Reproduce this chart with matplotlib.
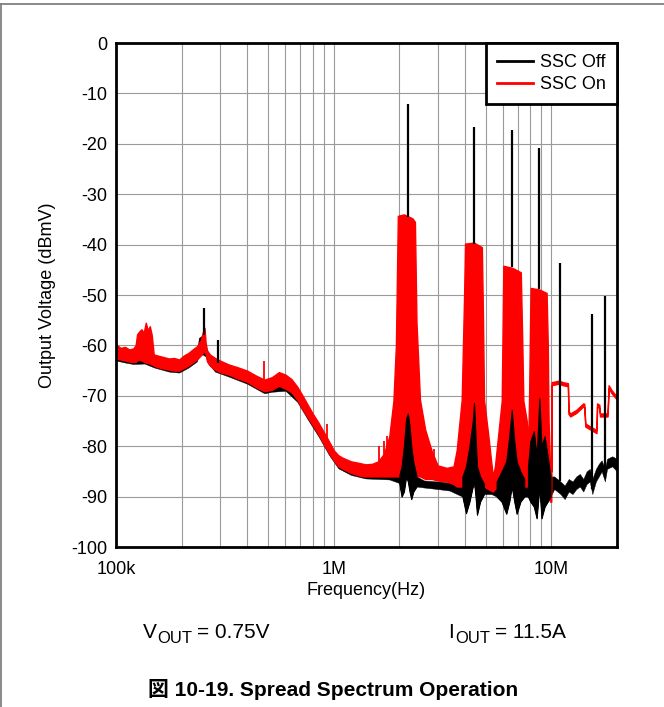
import matplotlib
matplotlib.use("Agg")
import matplotlib.pyplot as plt
from matplotlib.lines import Line2D
from matplotlib.ticker import FixedLocator, LogLocator, NullFormatter

plt.rcParams["font.family"] = ["Liberation Sans", "Noto Sans CJK JP"]
plt.rcParams["axes.unicode_minus"] = False

# ---- SSC On (red) envelope: frequency (Hz), upper / lower level (dBmV) ----
red_freq = [100e3, 105e3, 110e3, 115e3, 120e3, 123e3, 125e3, 128e3, 131e3, 134e3,
            137e3, 140e3, 143e3, 146e3, 149e3, 155e3, 165e3, 175e3, 185e3, 195e3,
            205e3, 215e3, 225e3, 235e3, 245e3, 250e3, 255e3, 258e3, 262e3, 270e3,
            285e3, 300e3, 330e3, 360e3, 400e3, 440e3, 480e3, 520e3, 560e3, 600e3,
            640e3, 680e3, 720e3, 760e3, 800e3, 850e3, 900e3, 950e3, 1.0e6, 1.05e6,
            1.1e6, 1.2e6, 1.3e6, 1.4e6, 1.5e6, 1.6e6, 1.7e6, 1.8e6, 1.88e6, 1.93e6,
            1.97e6, 2.1e6, 2.3e6, 2.36e6, 2.4e6, 2.49e6, 2.63e6, 2.82e6, 3.0e6, 3.3e6,
            3.55e6, 3.67e6, 3.87e6, 3.97e6, 4.01e6, 4.4e6, 4.79e6, 4.85e6, 4.9e6, 5.12e6,
            5.38e6, 5.5e6, 5.91e6, 5.97e6, 6.01e6, 6.6e6, 7.23e6, 7.35e6, 7.43e6, 7.7e6,
            7.82e6, 7.9e6, 7.98e6, 8.03e6, 8.8e6, 9.5e6, 9.62e6, 9.7e6, 9.85e6, 9.98e6,
            10.02e6, 10.8e6, 11.3e6, 11.9e6, 11.97e6, 12.2e6, 13.0e6, 14.0e6, 14.15e6, 14.3e6,
            16.1e6, 16.2e6, 16.6e6, 16.7e6, 18.1e6, 18.3e6, 18.9e6, 20e6]
red_hi = [-59.8, -60.5, -60.3, -60.8, -60.6, -60.0, -57.8, -57.2, -56.8, -57.5,
          -55.5, -57.0, -56.2, -58.0, -61.8, -62.0, -62.3, -62.6, -62.5, -62.8,
          -62.0, -61.5, -60.8, -60.2, -59.0, -57.5, -56.5, -59.5, -61.0, -61.8,
          -62.5, -63.0, -63.8, -64.3, -65.0, -66.0, -66.8, -66.3, -65.3, -65.8,
          -66.7, -68.2, -70.0, -71.8, -73.5, -75.3, -77.2, -79.0, -80.8, -81.8,
          -82.3, -83.0, -83.3, -83.6, -83.5, -83.0, -81.5, -78.0, -71.0, -60.0,
          -34.3, -34.0, -34.8, -35.5, -55.6, -70.8, -76.7, -81.0, -83.8, -84.3,
          -84.0, -80.8, -70.8, -50.0, -39.8, -39.6, -40.5, -55.0, -70.8, -77.6,
          -86.0, -84.0, -71.0, -55.0, -44.2, -44.6, -45.5, -60.0, -71.0, -75.0,
          -80.0, -69.0, -55.0, -48.6, -48.9, -49.6, -60.0, -75.0, -84.0, -85.0,
          -67.3, -67.0, -67.3, -67.5, -73.0, -73.5, -72.8, -71.5, -71.6, -75.5,
          -76.8, -71.5, -71.8, -73.5, -73.5, -67.9, -68.9, -70.2]
red_lo = [-62.6, -62.8, -63.0, -63.2, -63.3, -63.3, -63.0, -62.8, -63.0, -63.2,
          -63.4, -63.5, -63.6, -63.8, -64.0, -64.3, -64.6, -64.8, -65.0, -65.0,
          -64.5, -64.0, -63.4, -62.8, -62.0, -61.5, -61.2, -61.8, -63.2, -64.0,
          -64.8, -65.3, -65.8, -66.5, -67.2, -68.3, -69.1, -68.8, -68.0, -68.6,
          -69.3, -70.8, -72.7, -74.3, -75.8, -77.6, -79.6, -81.3, -82.8, -84.0,
          -84.5, -85.3, -85.8, -86.0, -86.0, -86.0, -86.0, -86.0, -86.0, -86.0,
          -86.0, -86.0, -86.0, -86.0, -86.0, -86.0, -86.5, -86.5, -86.8, -87.0,
          -87.5, -88.0, -88.0, -88.0, -88.0, -88.0, -88.0, -88.0, -88.0, -88.5,
          -89.0, -88.5, -88.0, -88.0, -88.0, -88.0, -88.0, -88.0, -88.0, -88.0,
          -88.0, -88.0, -88.0, -88.0, -88.0, -88.0, -88.0, -89.0, -91.0, -91.0,
          -67.9, -67.6, -67.9, -68.1, -73.6, -74.1, -73.4, -72.1, -72.2, -76.1,
          -77.4, -72.1, -72.4, -74.1, -74.1, -68.5, -69.5, -70.8]

# ---- SSC Off (black) envelope ----
black_freq = [100e3, 110e3, 120e3, 135e3, 150e3, 175e3, 195e3, 215e3, 235e3, 240e3,
              250e3, 258e3, 265e3, 285e3, 330e3, 400e3, 480e3, 520e3, 600e3, 680e3,
              760e3, 850e3, 950e3, 1.05e6, 1.2e6, 1.4e6, 1.6e6, 1.8e6, 2.0e6, 2.05e6,
              2.1e6, 2.15e6, 2.19e6, 2.23e6, 2.27e6, 2.32e6, 2.4e6, 2.6e6, 3.0e6, 3.4e6,
              3.9e6, 4.05e6, 4.2e6, 4.35e6, 4.41e6, 4.48e6, 4.55e6, 4.7e6, 4.9e6, 5.3e6,
              5.6e6, 5.9e6, 6.2e6, 6.4e6, 6.57e6, 6.75e6, 6.92e6, 7.2e6, 7.5e6, 7.8e6,
              8.0e6, 8.3e6, 8.55e6, 8.8e6, 9.0e6, 9.3e6, 9.6e6, 9.9e6, 10.3e6, 11.0e6,
              11.5e6, 12.0e6, 12.5e6, 13.0e6, 13.5e6, 14.0e6, 14.5e6, 15.0e6, 15.4e6, 16.0e6,
              16.5e6, 17.0e6, 17.6e6, 18.0e6, 19.0e6, 20e6]
black_hi = [-62.0, -62.4, -62.7, -62.6, -63.4, -64.2, -64.4, -63.4, -62.2, -58.5,
            -58.0, -60.0, -62.6, -64.2, -65.2, -66.6, -68.5, -68.2, -68.0, -70.2,
            -73.7, -77.0, -80.7, -83.4, -84.7, -85.4, -85.4, -85.5, -85.8, -84.0,
            -80.0, -74.5, -73.5, -76.0, -80.0, -83.0, -86.0, -86.8, -87.0, -87.2,
            -86.0, -84.0, -80.0, -75.0, -71.4, -78.0, -84.0, -86.0, -87.5, -87.5,
            -87.0, -85.0, -83.0, -78.0, -72.8, -79.0, -83.0, -85.0, -86.5, -84.0,
            -79.0, -77.0, -82.0, -70.4, -80.0, -78.0, -82.0, -86.0, -86.0, -87.0,
            -87.8, -86.5, -87.0, -86.0, -85.5, -86.5, -85.0, -84.5, -86.5, -84.5,
            -83.5, -82.8, -84.5, -82.5, -82.0, -82.5]
black_lo = [-63.0, -63.4, -63.7, -63.6, -64.4, -65.2, -65.4, -64.4, -63.2, -62.0,
            -61.8, -62.2, -63.6, -65.2, -66.2, -67.6, -69.5, -69.2, -69.0, -71.2,
            -74.7, -78.0, -81.7, -84.4, -85.7, -86.4, -86.5, -86.6, -87.3, -90.0,
            -89.0, -86.0, -87.0, -89.0, -90.5, -89.0, -88.0, -88.2, -88.5, -88.8,
            -90.0, -93.3, -91.0, -88.0, -87.0, -90.0, -93.6, -91.0, -89.5, -89.5,
            -90.0, -91.0, -93.4, -91.0, -88.0, -91.0, -93.4, -91.0, -90.0, -90.0,
            -91.0, -92.0, -94.3, -88.0, -94.3, -92.0, -91.0, -90.0, -88.5, -89.5,
            -90.5, -89.0, -89.5, -88.5, -88.0, -89.0, -87.5, -87.0, -89.5, -87.0,
            -86.0, -85.0, -87.0, -84.5, -84.0, -85.0]

# ---- narrow spikes: frequency, top, bottom ----
off_spike_freq = [254e3, 293e3, 2.2e6, 4.4e6, 6.6e6, 8.8e6, 11.0e6, 15.4e6, 17.6e6]
off_spike_top = [-52.5, -59.0, -12.2, -16.7, -17.3, -20.8, -43.7, -53.8, -50.2]
off_spike_bot = [-58.0, -63.5, -34.5, -39.8, -44.5, -48.8, -87.0, -88.5, -86.0]

on_spike_freq = [293e3, 480e3, 935e3, 1.62e6, 1.7e6, 1.76e6, 2.9e6]
on_spike_top = [-60.0, -63.0, -75.5, -80.0, -79.0, -78.0, -80.5]
on_spike_bot = [-63.0, -66.8, -79.0, -84.0, -84.0, -84.0, -84.5]

y_ticks = [0, -10, -20, -30, -40, -50, -60, -70, -80, -90, -100]
x_ticks = [1e5, 1e6, 1e7]
x_ticklabels = ["100k", "1M", "10M"]

fig = plt.figure(figsize=(6.64, 7.07), dpi=100)
ax = fig.add_axes([116 / 664, 1 - 547 / 707, 501 / 664, 504 / 707])

ax.fill_between(black_freq, black_lo, black_hi, color="black", lw=0.3, zorder=2)
ax.fill_between(red_freq, red_lo, red_hi, color="#ff0000", lw=1.0, zorder=3)
ax.vlines(on_spike_freq, on_spike_bot, on_spike_top, color="#ff0000", lw=1.3, zorder=3)
ax.vlines(off_spike_freq, off_spike_bot, off_spike_top, color="black", lw=1.6, zorder=4)

# black tone residue sits on top of the red skirts
for lo_f, hi_f in [(2.0e6, 2.4e6), (3.9e6, 4.9e6), (5.6e6, 7.5e6), (7.8e6, 9.9e6)]:
    idx = [i for i, v in enumerate(black_freq) if lo_f <= v <= hi_f]
    ax.fill_between([black_freq[i] for i in idx], [black_lo[i] for i in idx],
                    [black_hi[i] for i in idx], color="black", lw=0.8, zorder=4)

ax.set_xscale("log")
ax.set_xlim(1e5, 2e7)
ax.set_ylim(-100, 0)
ax.xaxis.set_major_locator(FixedLocator(x_ticks))
ax.set_xticklabels(x_ticklabels)
ax.xaxis.set_minor_locator(LogLocator(base=10, subs=range(2, 10)))
ax.xaxis.set_minor_formatter(NullFormatter())
ax.set_yticks(y_ticks)
ax.tick_params(which="both", length=0, labelsize=13)
ax.tick_params(axis="y", pad=6.5)
ax.tick_params(axis="x", pad=10)
ax.grid(True, which="both", color="#9a9a9a", lw=0.8)
ax.set_axisbelow(True)
for s in ax.spines.values():
    s.set_linewidth(2)
    s.set_zorder(6)

ax.set_xlabel("Frequency(Hz)", fontsize=13, labelpad=3)
ax.set_ylabel("Output Voltage (dBmV)", fontsize=13, labelpad=11)

handles = [Line2D([], [], color="black", lw=2), Line2D([], [], color="#ff0000", lw=2)]
leg = ax.legend(handles, ["SSC Off", "SSC On"], loc="upper right", fontsize=13,
                fancybox=False, framealpha=1, edgecolor="black", borderaxespad=0,
                handlelength=2.0, handletextpad=0.4, labelspacing=0.3, borderpad=0.6)
leg.get_frame().set_linewidth(2)
leg.set_zorder(7)

# V_OUT / I_OUT conditions with large subscripts
yc = 1 - 638 / 707
fig.text(143 / 664, yc, "V", fontsize=15, va="baseline")
fig.text(157 / 664, yc - 5 / 707, "OUT", fontsize=12, va="baseline")
fig.text(197 / 664, yc, "= 0.75V", fontsize=15, va="baseline")
fig.text(448 / 664, yc, "I", fontsize=15, va="baseline")
fig.text(455 / 664, yc - 5 / 707, "OUT", fontsize=12, va="baseline")
fig.text(495 / 664, yc, "= 11.5A", fontsize=15, va="baseline")

fig.text(333 / 664, 1 - 689 / 707, "図 10-19. Spread Spectrum Operation", fontsize=15,
         fontweight="bold", ha="center", va="center")

# page frame lines
fig.add_artist(Line2D([0, 1], [1 - 4 / 707, 1 - 4 / 707], color="#808080", lw=1.3))
fig.add_artist(Line2D([1 / 664, 1 / 664], [0, 1 - 4 / 707], color="#808080", lw=1.3))

fig.savefig("out.png", dpi=100)
